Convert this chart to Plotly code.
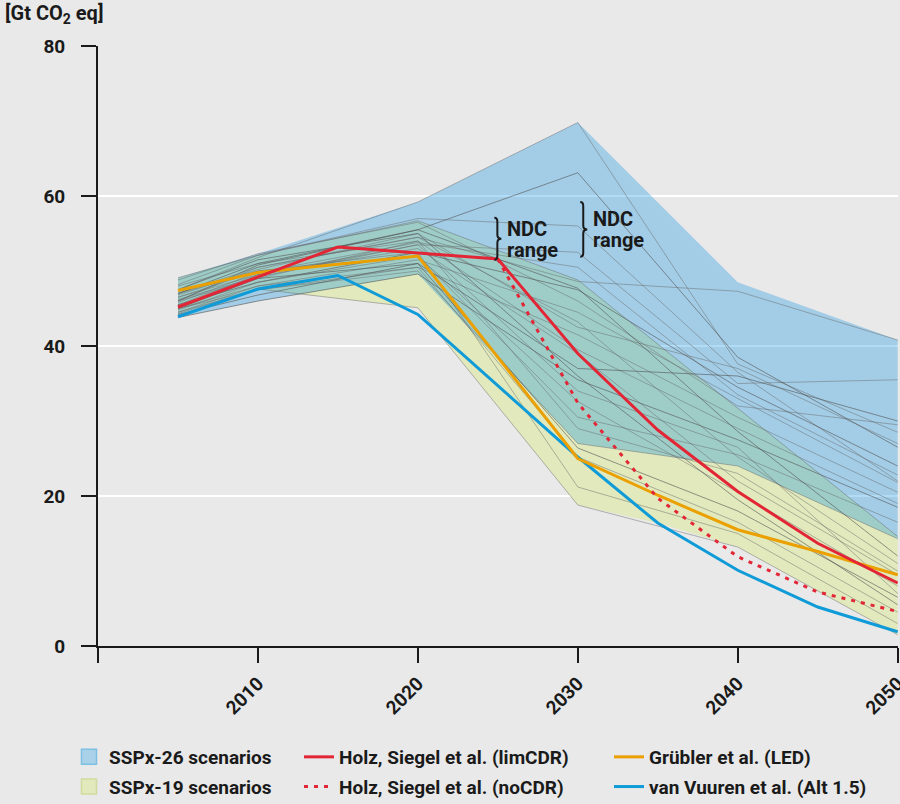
import plotly.graph_objects as go

# ---------------- data ----------------
line_years = [2005, 2010, 2020, 2030, 2040, 2050]

# SSPx-26 envelope
ssp26_years = [2005, 2010, 2020, 2030, 2040, 2050]
ssp26_upper = [49.1, 52.3, 59.2, 69.8, 48.5, 40.8]
ssp26_lower = [43.8, 46.0, 49.6, 27.0, 24.0, 14.3]

# SSPx-19 envelope
ssp19_upper_years = [2005, 2010, 2020, 2030, 2040, 2050]
ssp19_upper = [49.1, 52.1, 56.7, 48.8, 31.7, 14.6]
ssp19_lower_years = [2005, 2010, 2020, 2030, 2035, 2040, 2050]
ssp19_lower = [44.3, 47.6, 45.1, 18.8, 16.4, 13.2, 1.5]

# individual SSPx-26 scenarios
ssp26_lines = [
    [47.5, 51.8, 59.2, 69.8, 37.6, 28.5],
    [46.0, 50.8, 55.5, 63.1, 38.5, 26.5],
    [47.0, 50.5, 54.5, 48.6, 47.3, 40.8],
    [48.2, 52.1, 57.0, 56.0, 36.5, 22.0],
    [46.5, 49.5, 53.5, 52.5, 35.0, 35.5],
    [45.5, 48.5, 52.5, 47.5, 34.5, 24.0],
    [45.0, 48.0, 51.5, 44.5, 33.0, 21.8],
    [44.5, 47.5, 50.5, 41.5, 30.5, 20.5],
    [46.0, 49.0, 54.0, 39.5, 29.0, 19.0],
    [43.8, 46.0, 49.6, 35.5, 27.5, 18.5],
    [47.0, 50.0, 52.0, 30.5, 25.5, 16.5],
    [45.0, 47.5, 50.0, 27.0, 24.0, 14.3],
    [48.8, 52.3, 56.5, 46.0, 32.0, 29.5],
    [44.2, 46.8, 51.0, 37.0, 36.0, 30.0],
    [46.8, 50.2, 55.0, 42.5, 37.0, 27.0],
    [45.8, 49.8, 53.8, 50.5, 33.5, 22.8],
]

# individual SSPx-19 scenarios
ssp19_lines = [
    [49.1, 52.1, 56.7, 48.8, 31.7, 14.6],
    [47.0, 51.0, 55.5, 47.7, 28.6, 12.0],
    [46.0, 50.5, 54.5, 43.2, 25.2, 11.0],
    [45.5, 49.5, 53.0, 39.0, 22.0, 9.5],
    [44.8, 48.5, 52.0, 32.6, 20.5, 8.0],
    [45.0, 49.0, 51.0, 26.4, 18.0, 6.5],
    [44.5, 48.0, 50.5, 25.2, 16.5, 4.5],
    [44.3, 47.6, 45.1, 18.8, 13.2, 1.5],
    [46.5, 50.0, 52.5, 21.2, 15.0, 3.0],
    [47.5, 51.5, 55.0, 36.0, 19.5, 5.5],
    [48.0, 51.0, 54.0, 29.0, 23.0, 10.0],
    [46.2, 49.2, 53.5, 34.0, 26.5, 7.0],
]

holz_years = [2005, 2010, 2015, 2020, 2025, 2030, 2035, 2040, 2045, 2050]
holz_limcdr = [45.2, 49.2, 53.2, 52.4, 51.6, 39.0, 28.8, 20.6, 13.7, 8.4]
holz_nocdr_years = [2025, 2030, 2035, 2040, 2045, 2050]
holz_nocdr = [51.6, 32.4, 19.7, 11.9, 7.2, 4.6]

grubler_years = [2005, 2010, 2020, 2030, 2035, 2040, 2045, 2050]
grubler_led = [47.4, 49.8, 52.0, 25.0, 20.1, 15.5, 12.6, 9.5]

vuuren_years = [2005, 2010, 2015, 2020, 2030, 2035, 2040, 2045, 2050]
vuuren_alt15 = [43.9, 47.6, 49.4, 44.2, 25.2, 16.4, 10.1, 5.2, 1.9]

x_tickvals = [2000, 2010, 2020, 2030, 2040, 2050]
x_ticktext = ["", "2010", "2020", "2030", "2040", "2050"]
y_tickvals = [0, 20, 40, 60, 80]

# ---------------- style ----------------
W, H = 900, 804
ML, MR, MT, MB = 98, 2, 46, 158
BG = "#e9e9e9"
INK = "#1a1a1a"
FONT = "Roboto, 'Liberation Sans', sans-serif"
C_RED = "#e32636"
C_ORANGE = "#eba000"
C_BLUE = "#0f9bd7"
C_26_FILL = "rgba(20,150,225,0.33)"
C_19_FILL = "#e1e9bd"
C_GRAY = "rgba(100,100,100,0.5)"
C_GRAY_DARK = "rgba(80,80,80,0.65)"

XR = (2000, 2050.02)
YR = (0, 80)


def px_to_xp(px):
    return (px - ML) / (W - ML - MR)


def py_to_yp(py):
    return (H - MB - py) / (H - MT - MB)


fig = go.Figure()

# SSPx-19 band (opaque, underneath)
fig.add_trace(go.Scatter(
    x=ssp19_upper_years + ssp19_lower_years[::-1],
    y=ssp19_upper + ssp19_lower[::-1],
    fill="toself", fillcolor=C_19_FILL, mode="lines",
    line=dict(width=0), hoverinfo="skip", showlegend=False))

# SSPx-26 band (translucent, on top)
fig.add_trace(go.Scatter(
    x=ssp26_years + ssp26_years[::-1],
    y=ssp26_upper + ssp26_lower[::-1],
    fill="toself", fillcolor=C_26_FILL, mode="lines",
    line=dict(width=0), hoverinfo="skip", showlegend=False))

for i, vals in enumerate(ssp26_lines + ssp19_lines):
    fig.add_trace(go.Scatter(
        x=line_years, y=vals, mode="lines",
        line=dict(color=C_GRAY_DARK if i % 4 == 1 else C_GRAY, width=0.9),
        hoverinfo="skip", showlegend=False))

fig.add_trace(go.Scatter(x=vuuren_years, y=vuuren_alt15, mode="lines",
                         line=dict(color=C_BLUE, width=3), showlegend=False))
fig.add_trace(go.Scatter(x=grubler_years, y=grubler_led, mode="lines",
                         line=dict(color=C_ORANGE, width=3), showlegend=False))
fig.add_trace(go.Scatter(x=holz_nocdr_years, y=holz_nocdr, mode="lines",
                         line=dict(color=C_RED, width=3, dash="4px,6px"),
                         showlegend=False))
fig.add_trace(go.Scatter(x=holz_years, y=holz_limcdr, mode="lines",
                         line=dict(color=C_RED, width=3), showlegend=False))

# ---------------- legend entries ----------------
def leg_square(name, fill, border, legend, group):
    fig.add_trace(go.Scatter(
        x=[None], y=[None], mode="markers", name=name, legend=legend,
        legendgroup=group,
        marker=dict(symbol="square", size=15, color=fill,
                    line=dict(color=border, width=1.5))))


def leg_line(name, color, dash, legend, group):
    fig.add_trace(go.Scatter(
        x=[None], y=[None], mode="lines", name=name, legend=legend,
        legendgroup=group,
        line=dict(color=color, width=3, dash=dash)))


leg_square("SSPx-26 scenarios", "#a9d2e8", "#7cc0e4", "legend", "a")
leg_square("SSPx-19 scenarios", "#e1e9bd", "#cfdc9c", "legend", "b")
leg_line("Holz, Siegel et al. (limCDR)", C_RED, "solid", "legend2", "c")
leg_line("Holz, Siegel et al. (noCDR)", C_RED, "4px,6px", "legend2", "d")
leg_line("Grübler et al. (LED)", C_ORANGE, "solid", "legend3", "e")
leg_line("van Vuuren et al. (Alt 1.5)", C_BLUE, "solid", "legend3", "f")

leg_common = dict(
    orientation="v", yanchor="top", xanchor="left",
    y=py_to_yp(738), bgcolor="rgba(0,0,0,0)", borderwidth=0,
    traceorder="grouped", tracegroupgap=2,
    font=dict(family=FONT, size=19, color=INK, weight="bold"),
)

# ---------------- NDC braces ----------------
ndc_marks = [
    dict(x=2024.97, top=57.1, bot=51.5),
    dict(x=2030.34, top=59.2, bot=51.9),
]
shapes = []
annotations = []
dx_left = 3 / 16.0
dx_tip = 4 / 16.0
r = 4 / 7.5
for m in ndc_marks:
    x, t, b = m["x"], m["top"], m["bot"]
    ym = (t + b) / 2
    path = (f"M {x-dx_left},{t} Q {x},{t} {x},{t-r} L {x},{ym+r} "
            f"Q {x},{ym} {x+dx_tip},{ym} Q {x},{ym} {x},{ym-r} "
            f"L {x},{b+r} Q {x},{b} {x-dx_left},{b}")
    shapes.append(dict(type="path", path=path, xref="x", yref="y",
                       line=dict(color=INK, width=2)))
    tx = x + 0.5
    annotations.append(dict(x=tx, y=ym + 1.35, xref="x", yref="y", text="NDC",
                            showarrow=False, xanchor="left", yanchor="middle",
                            font=dict(family=FONT, size=20, color=INK, weight="bold")))
    annotations.append(dict(x=tx, y=ym - 1.45, xref="x", yref="y", text="range",
                            showarrow=False, xanchor="left", yanchor="middle",
                            font=dict(family=FONT, size=20, color=INK, weight="bold")))

annotations.append(dict(
    x=px_to_xp(3), y=py_to_yp(14), xref="paper", yref="paper",
    text="[Gt CO<sub>2</sub> eq]", showarrow=False,
    xanchor="left", yanchor="middle",
    font=dict(family=FONT, size=20, color=INK, weight="bold")))

axis_font = dict(family=FONT, size=19, color=INK, weight="bold")

fig.update_layout(
    width=W, height=H,
    margin=dict(l=ML, r=MR, t=MT, b=MB, pad=0, autoexpand=False),
    paper_bgcolor=BG, plot_bgcolor=BG,
    showlegend=True,
    legend=dict(leg_common, x=px_to_xp(69)),
    legend2=dict(leg_common, x=px_to_xp(299)),
    legend3=dict(leg_common, x=px_to_xp(609)),
    shapes=shapes,
    annotations=annotations,
    xaxis=dict(
        range=list(XR), tickvals=x_tickvals, ticktext=x_ticktext,
        tickangle=-45, ticks="outside", ticklen=15, tickwidth=2,
        tickcolor=INK, showline=True, linecolor=INK, linewidth=2,
        showgrid=False, zeroline=False, tickfont=axis_font,
        ticklabelstandoff=2, automargin=False, ticklabeloverflow="allow",
    ),
    yaxis=dict(
        range=list(YR), tickvals=y_tickvals, ticks="outside", ticklen=15,
        tickwidth=2, tickcolor=INK, showline=True, linecolor=INK,
        linewidth=2, showgrid=True, gridcolor="white", gridwidth=2,
        zeroline=False, tickfont=axis_font, ticklabelstandoff=12,
        automargin=False,
    ),
)

fig.write_html(
    "out.html",
    config={"displayModeBar": False},
    post_script="document.body.style.margin='0px';document.body.style.background='#e9e9e9';",
)
